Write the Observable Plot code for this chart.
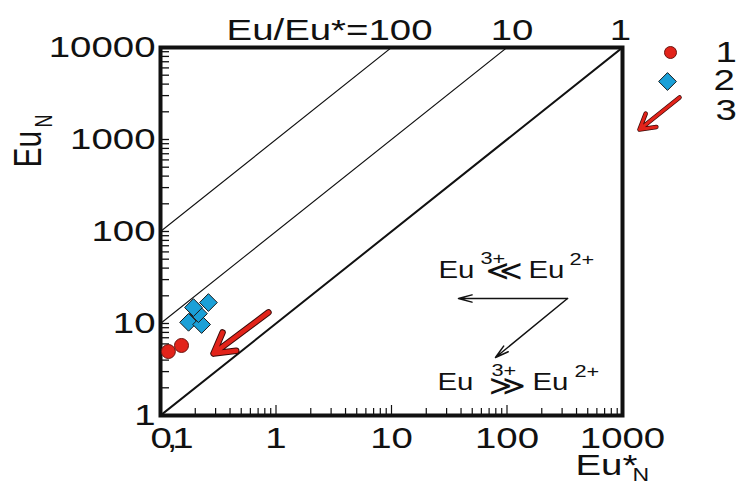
<!DOCTYPE html>
<html><head><meta charset="utf-8">
<script src="https://cdn.jsdelivr.net/npm/d3@7"></script>
<script src="https://cdn.jsdelivr.net/npm/@observablehq/plot@0.6"></script>
<style>body{margin:0;background:#fff} svg{display:block}</style>
</head><body><div id="chart"></div>
<script>
// axis ticks
const xTicks = [0.1, 1, 10, 100, 1000];
const xTickLabels = ["0,1", "1", "10", "100", "1000"];
const yTicks = [1, 10, 100, 1000, 10000];
const yTickLabels = ["1", "10", "100", "1000", "10000"];
// reference lines EuN / Eu*N = ratio, and their printed labels
const ratios = [10, 100, 1000];
const ratioLabels = ["1", "10", "Eu/Eu*=100"];
// series 1 (red circles)
const s1X = [0.117, 0.152];
const s1Y = [4.96, 5.77];
// series 2 (blue diamonds)
const s2X = [0.175, 0.227, 0.213, 0.193, 0.26];
const s2Y = [10.3, 9.75, 12.8, 14.9, 16.9];
// series 3 (red trend arrow): [x, y] of tail and head
const trendFrom = [0.86, 13.2];
const trendTo = [0.288, 4.72];
const legendArrowFrom = [3117, 2864];
const legendArrowTo = [1403, 1285];
// annotation arrows
const annStart = [334, 18.7];
const annLeftEnd = [38, 18.7];
const annDownEnd = [79.5, 4.27];
const annRow1 = [25.5, 37.7];
const annRow2 = [25.0, 2.28];
const legendLabels = ["1", "2", "3"];

const RED = "#e2231a", BLUE = "#1ba0d7";
const F = "Liberation Sans, Arial, sans-serif";
const W = 737, H = 484, ML = 160, MR = 115, MT = 47, MB = 69;

const minorX = [0.1, 1, 10, 100].flatMap(d => d3.range(2, 10).map(k => d * k));
const minorY = [1, 10, 100, 1000].flatMap(d => d3.range(2, 10).map(k => d * k));

const xDomain = [xTicks[0], xTicks[xTicks.length - 1]];
const yDomain = [yTicks[0], yTicks[yTicks.length - 1]];
const one = [0];
// tick lengths in pixels, turned into log-space extents of the frame
const pxDecX = (W - ML - MR) / 4, pxDecY = (H - MT - MB) / 4;
const tickEndX = len => xDomain[0] * Math.pow(10, len / pxDecX);
const tickEndY = len => yDomain[0] * Math.pow(10, len / pxDecY);

const at = (p, extra) => ({x: () => p[0], y: () => p[1], ...extra});

const plot = Plot.plot({
  width: W, height: H,
  marginLeft: ML, marginRight: MR, marginTop: MT, marginBottom: MB,
  style: {fontFamily: F, background: "#fff", color: "#111"},
  x: {type: "log", domain: xDomain, axis: null},
  y: {type: "log", domain: yDomain, axis: null},
  marks: [
    // ratio lines
    ...ratios.map((r, i) => Plot.line(xDomain, {x: d => d, y: d => d * r, stroke: "#111", strokeWidth: i === 0 ? 2 : 1.1, clip: true})),
    // inward ticks
    Plot.ruleX(minorX, {x: d => d, y1: yDomain[0], y2: tickEndY(7), stroke: "#111", strokeWidth: 1.2}),
    Plot.ruleX(xTicks, {x: d => d, y1: yDomain[0], y2: tickEndY(10), stroke: "#111", strokeWidth: 1.2}),
    Plot.ruleY(minorY.concat(yTicks), {y: d => d, x1: xDomain[0], x2: tickEndX(9), stroke: "#111", strokeWidth: 1.3}),
    // tick labels
    Plot.text(xTicks.slice(1), {x: d => d, frameAnchor: "bottom", text: d => xTickLabels[xTicks.indexOf(d)], fontSize: 30, lineAnchor: "top", dy: 11}),
    Plot.text(xTicks.slice(0, 1), {x: d => d, frameAnchor: "bottom", text: d => xTickLabels[xTicks.indexOf(d)], fontSize: 30, lineAnchor: "top", dy: 11, dx: 9}),
    Plot.text(yTicks, {y: d => d, frameAnchor: "left", text: d => yTickLabels[yTicks.indexOf(d)], fontSize: 30, textAnchor: "end", lineAnchor: "middle", dx: -5}),
    // ratio labels at the top
    Plot.text([ratios[0]], {x: r => 10000 / r, frameAnchor: "top", text: () => ratioLabels[0], fontSize: 30, lineAnchor: "middle", textAnchor: "middle", dy: -17, dx: -2}),
    Plot.text([ratios[1]], {x: r => 10000 / r, frameAnchor: "top", text: () => ratioLabels[1], fontSize: 30, lineAnchor: "middle", textAnchor: "middle", dy: -17, dx: 5}),
    Plot.text([ratios[2]], {x: r => 10000 / r, frameAnchor: "top", text: () => ratioLabels[2], fontSize: 30, lineAnchor: "middle", textAnchor: "end", dy: -17, dx: 41}),
    Plot.frame({stroke: "#111", strokeWidth: 4}),
    // data
    Plot.dot(s2X.map((_, i) => i), {x: i => s2X[i], y: i => s2Y[i], symbol: "diamond2", r: 8, fill: BLUE, stroke: "#1a1a1a", strokeWidth: 1}),
    Plot.dot(s1X.map((_, i) => i), {x: i => s1X[i], y: i => s1Y[i], r: 7, fill: RED, stroke: "#6a1510", strokeWidth: 1}),
    // trend arrow (series 3)
    Plot.arrow(one, {x1: () => trendFrom[0], y1: () => trendFrom[1], x2: () => trendTo[0], y2: () => trendTo[1], stroke: "#3a0a08", strokeWidth: 6.5, headLength: 10}),
    Plot.arrow(one, {x1: () => trendFrom[0], y1: () => trendFrom[1], x2: () => trendTo[0], y2: () => trendTo[1], stroke: RED, strokeWidth: 4.5, headLength: 10}),
    // legend
    Plot.dot(one, {frameAnchor: "top-right", dx: 48, dy: 5, r: 6, fill: RED, stroke: "#6a1510", strokeWidth: 1}),
    Plot.dot(one, {frameAnchor: "top-right", dx: 45, dy: 34, r: 8, symbol: "diamond2", fill: BLUE, stroke: "#1a1a1a", strokeWidth: 1}),
    Plot.arrow(one, {x1: () => legendArrowFrom[0], y1: () => legendArrowFrom[1], x2: () => legendArrowTo[0], y2: () => legendArrowTo[1], stroke: "#3a0a08", strokeWidth: 4.5, headLength: 9}),
    Plot.arrow(one, {x1: () => legendArrowFrom[0], y1: () => legendArrowFrom[1], x2: () => legendArrowTo[0], y2: () => legendArrowTo[1], stroke: RED, strokeWidth: 3, headLength: 9}),
    Plot.text([legendLabels[0]], {frameAnchor: "top-right", text: d => d, fontSize: 30, textAnchor: "start", lineAnchor: "middle", dx: 93, dy: 5}),
    Plot.text([legendLabels[1]], {frameAnchor: "top-right", text: d => d, fontSize: 30, textAnchor: "start", lineAnchor: "middle", dx: 91, dy: 33}),
    Plot.text([legendLabels[2]], {frameAnchor: "top-right", text: d => d, fontSize: 30, textAnchor: "start", lineAnchor: "middle", dx: 93, dy: 63}),
    // annotation arrows
    Plot.arrow(one, {x1: () => annStart[0], y1: () => annStart[1], x2: () => annLeftEnd[0], y2: () => annLeftEnd[1], stroke: "#111", strokeWidth: 1.5, headLength: 14, headAngle: 30}),
    Plot.arrow(one, {x1: () => annStart[0], y1: () => annStart[1], x2: () => annDownEnd[0], y2: () => annDownEnd[1], stroke: "#111", strokeWidth: 1.5, headLength: 14, headAngle: 30}),
    // annotation text row 1: Eu3+ << Eu2+
    Plot.text(one, at(annRow1, {text: () => "Eu", fontSize: 23, textAnchor: "start", lineAnchor: "middle"})),
    Plot.text(one, at(annRow1, {text: () => "3+", fontSize: 17, textAnchor: "start", lineAnchor: "middle", dx: 42, dy: -12})),
    Plot.text(one, at(annRow1, {text: () => "\u226A", fontSize: 28, fontFamily: "DejaVu Sans", textAnchor: "start", lineAnchor: "middle", dx: 47, dy: 1})),
    Plot.text(one, at(annRow1, {text: () => "Eu", fontSize: 23, textAnchor: "start", lineAnchor: "middle", dx: 90})),
    Plot.text(one, at(annRow1, {text: () => "2+", fontSize: 17, textAnchor: "start", lineAnchor: "middle", dx: 131, dy: -11})),
    // annotation text row 2: Eu3+ >> Eu2+
    Plot.text(one, at(annRow2, {text: () => "Eu", fontSize: 23, textAnchor: "start", lineAnchor: "middle"})),
    Plot.text(one, at(annRow2, {text: () => "3+", fontSize: 17, textAnchor: "start", lineAnchor: "middle", dx: 54, dy: -12})),
    Plot.text(one, at(annRow2, {text: () => "\u226B", fontSize: 28, fontFamily: "DejaVu Sans", textAnchor: "start", lineAnchor: "middle", dx: 51, dy: 3})),
    Plot.text(one, at(annRow2, {text: () => "Eu", fontSize: 23, textAnchor: "start", lineAnchor: "middle", dx: 95})),
    Plot.text(one, at(annRow2, {text: () => "2+", fontSize: 17, textAnchor: "start", lineAnchor: "middle", dx: 137, dy: -11})),
    // axis titles
    Plot.text(one, {frameAnchor: "left", text: () => "Eu", fontSize: 30, rotate: -90, textAnchor: "start", lineAnchor: "middle", dx: -132, dy: -64}),
    Plot.text(one, {frameAnchor: "left", text: () => "N", fontSize: 18, rotate: -90, textAnchor: "start", lineAnchor: "middle", dx: -116, dy: -104}),
    Plot.text(one, {frameAnchor: "bottom-right", text: () => "Eu*", fontSize: 30, textAnchor: "start", lineAnchor: "middle", dx: -47, dy: 50}),
    Plot.text(one, {frameAnchor: "bottom-right", text: () => "N", fontSize: 18, textAnchor: "start", lineAnchor: "middle", dx: 10, dy: 60})
  ]
});

// horizontally stretched lettering, as in the reference
plot.querySelectorAll("text").forEach(t => {
  const tr = t.getAttribute("transform");
  if (tr && /translate\(/.test(tr)) t.setAttribute("transform", tr.replace(/translate\([^)]*\)/, m => m + " scale(1.28,1)"));
  if (t.textContent === "0,1") t.setAttribute("letter-spacing", "-4");
});
document.getElementById("chart").append(plot);
</script>
</body></html>
